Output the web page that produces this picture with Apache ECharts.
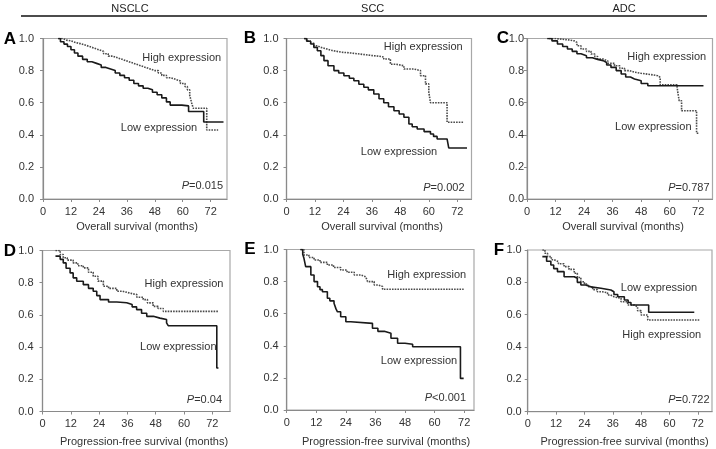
<!DOCTYPE html>
<html><head><meta charset="utf-8">
<script src="https://cdn.jsdelivr.net/npm/echarts@6/dist/echarts.min.js"></script>
<style>html,body{margin:0;padding:0;background:#fff}#c{width:716px;height:449px}</style>
</head><body><div id="c"></div>
<script>
// ---------- DATA (month, survival proportion) ----------
const columnTitles = ['NSCLC', 'SCC', 'ADC'];
const xTickValues = [0, 12, 24, 36, 48, 60, 72];
const yTickValues = [0.0, 0.2, 0.4, 0.6, 0.8, 1.0];
const osTitle = 'Overall survival (months)';
const pfsTitle = 'Progression-free survival (months)';
const pValues = ['=0.015', '=0.002', '=0.787', '=0.04', '<0.001', '=0.722'];

const nsclcOsHigh = [[6.6,1.0],[8.5,0.99],[10,0.985],[12,0.975],[14,0.968],[16,0.96],[18,0.95],[20,0.94],[22,0.93],[24,0.92],[26,0.905],[28,0.89],[30,0.88],[32,0.87],[34,0.86],[36,0.85],[38,0.84],[40,0.83],[42,0.82],[44,0.81],[46,0.80],[48,0.80],[49.5,0.785],[51,0.77],[53,0.755],[55,0.745],[57,0.735],[59,0.72],[61,0.70],[62,0.68],[63,0.645],[63.8,0.60],[64.5,0.565],[70.3,0.43],[75.2,0.43]];
const nsclcOsLow = [[6.5,1.0],[7.5,0.98],[9,0.965],[10.5,0.95],[12,0.93],[13.5,0.91],[15,0.89],[17,0.87],[19,0.855],[21,0.845],[23,0.835],[25,0.82],[27,0.81],[29,0.80],[31,0.785],[33,0.77],[35,0.755],[37,0.74],[39,0.72],[41,0.705],[43,0.69],[45,0.68],[47,0.665],[49,0.65],[51,0.63],[53,0.605],[54.6,0.585],[59.6,0.58],[62.5,0.545],[69,0.48],[77.5,0.48]];

const sccOsHigh = [[7.4,1.0],[8.5,0.985],[10,0.97],[11.6,0.955],[13,0.945],[14.4,0.935],[17,0.925],[19.3,0.915],[23,0.91],[27,0.903],[31,0.895],[35.4,0.89],[39,0.885],[41,0.872],[43.8,0.84],[46,0.83],[49.5,0.81],[53.7,0.80],[56.5,0.768],[58.6,0.717],[60,0.665],[60.7,0.60],[67.7,0.478],[74.7,0.478]];
const sccOsLow = [[7.4,1.0],[8.5,0.983],[10.2,0.966],[11.5,0.945],[13,0.924],[14.5,0.893],[15.8,0.862],[17.5,0.83],[20,0.80],[22,0.785],[24.2,0.768],[26.5,0.752],[28.4,0.737],[30.5,0.715],[32.6,0.696],[34.5,0.68],[36.8,0.654],[39,0.625],[41,0.60],[43,0.575],[45.3,0.55],[47.5,0.53],[49.5,0.509],[51.6,0.467],[53,0.45],[55.1,0.436],[58,0.42],[60.7,0.405],[62,0.39],[63.5,0.374],[67.7,0.363],[68.4,0.318],[76.1,0.318]];

const adcOsHigh = [[9.3,1.0],[12,0.995],[15,0.99],[18,0.985],[19.9,0.976],[21,0.955],[22.7,0.935],[25,0.92],[26.9,0.903],[28.5,0.888],[29.7,0.872],[32,0.86],[34,0.845],[36.8,0.83],[39,0.815],[41,0.80],[43,0.79],[45.2,0.783],[48,0.775],[52.2,0.768],[55,0.758],[56,0.712],[63,0.712],[63.4,0.665],[64,0.612],[65,0.55],[71.3,0.41],[72.5,0.41]];
const adcOsLow = [[8.5,1.0],[10.5,0.985],[12.8,0.966],[15,0.95],[17,0.935],[19,0.92],[21,0.905],[22.7,0.893],[25,0.88],[27.5,0.87],[29.7,0.862],[32,0.85],[33.5,0.835],[35.3,0.82],[37.5,0.80],[39.6,0.779],[41.5,0.76],[43.5,0.748],[45.2,0.737],[48,0.72],[50.8,0.706],[74.2,0.706]];

const nsclcPfsHigh = [[5.5,1.0],[7.5,0.975],[8.8,0.955],[10.5,0.94],[13,0.923],[15,0.905],[17.3,0.892],[19.5,0.865],[21.5,0.84],[23.5,0.81],[25.8,0.778],[28,0.765],[31.5,0.747],[34,0.735],[37.1,0.726],[40,0.71],[42.7,0.695],[44.5,0.675],[46.9,0.653],[49,0.64],[51.2,0.622],[74.6,0.622]];
const nsclcPfsLow = [[5.5,0.965],[7.5,0.945],[8.8,0.923],[10,0.89],[11.7,0.861],[13,0.83],[14.5,0.809],[17.3,0.788],[19.5,0.765],[21.5,0.747],[23,0.72],[24.4,0.695],[28,0.68],[31.5,0.675],[35.7,0.664],[38,0.65],[39.9,0.633],[42,0.61],[44.2,0.591],[47,0.58],[49.8,0.571],[52.6,0.55],[53.3,0.533],[73.9,0.27],[74.6,0.27]];

const sccPfsHigh = [[5.7,1.0],[7,0.966],[9,0.95],[11.1,0.935],[13.5,0.92],[16.5,0.903],[19,0.888],[21.9,0.872],[24.5,0.858],[27.4,0.841],[30,0.83],[32.1,0.82],[32.8,0.80],[35.5,0.779],[37,0.77],[38.9,0.752],[71.8,0.752]];
const sccPfsLow = [[5.5,1.0],[6.5,0.97],[7,0.945],[7.7,0.893],[9.8,0.841],[11.1,0.80],[12.5,0.768],[13.5,0.75],[14.5,0.737],[16.5,0.696],[17.5,0.68],[19.2,0.665],[20,0.63],[20.6,0.612],[21.9,0.581],[24,0.55],[26,0.54],[34.8,0.509],[37,0.49],[39.6,0.478],[42.3,0.447],[45,0.416],[48,0.41],[51.1,0.394],[70.5,0.197],[71.8,0.197]];

const adcPfsHigh = [[6.2,1.0],[7.3,0.98],[8.4,0.959],[10,0.94],[11.2,0.928],[13,0.915],[15.4,0.897],[17.5,0.88],[19.7,0.856],[21,0.83],[22.5,0.804],[24,0.79],[25.4,0.773],[27.5,0.755],[29.5,0.742],[31.5,0.735],[33.8,0.722],[35,0.71],[36.6,0.701],[39.5,0.68],[42.3,0.66],[45.1,0.649],[46.5,0.625],[48,0.598],[50.8,0.567],[72.7,0.567]];
const adcPfsLow = [[6.2,0.959],[8,0.93],[9.8,0.907],[11,0.885],[12.6,0.866],[15.4,0.835],[19.7,0.825],[21,0.80],[22.5,0.784],[24.5,0.772],[26.7,0.763],[31,0.753],[35.2,0.742],[36.5,0.725],[38.1,0.711],[40.9,0.691],[42.5,0.675],[43.7,0.66],[51.2,0.615],[70.5,0.615]];

// ---------- LAYOUT ----------
const FONT = '"Liberation Sans", Arial, Helvetica, sans-serif';
const panels = [
  {letter:'A', grid:{left:43, top:38.5, width:184, height:160.5}, xMax:79, yMargin:9, high:nsclcOsHigh, low:nsclcOsLow, xTitle:osTitle, p:pValues[0],
   letterPos:[10,39], titlePos:[137,227], hiPos:[181.7,58.3], loPos:[159,128.3], pPos:[223,186]},
  {letter:'B', grid:{left:286.5, top:38.5, width:185, height:160.5}, xMax:78, yMargin:8, high:sccOsHigh, low:sccOsLow, xTitle:osTitle, p:pValues[1],
   letterPos:[250,38], titlePos:[382,227], hiPos:[423.3,46.7], loPos:[399,151.7], pPos:[464.5,188]},
  {letter:'C', grid:{left:527, top:38.5, width:185.5, height:160.5}, xMax:78, yMargin:3, high:adcOsHigh, low:adcOsLow, xTitle:osTitle, p:pValues[2],
   letterPos:[503,38], titlePos:[623,227], hiPos:[666.7,56.7], loPos:[653.3,126.7], pPos:[709.5,187.7]},
  {letter:'D', grid:{left:42.5, top:250.5, width:187.5, height:161}, xMax:79.5, yMargin:9, high:nsclcPfsHigh, low:nsclcPfsLow, xTitle:pfsTitle, p:pValues[3],
   letterPos:[10,251], titlePos:[144,441.7], hiPos:[184,284.3], loPos:[178.3,346.7], pPos:[222,400]},
  {letter:'E', grid:{left:286.7, top:249.5, width:187.3, height:160.5}, xMax:76, yMargin:8, high:sccPfsHigh, low:sccPfsLow, xTitle:pfsTitle, p:pValues[4],
   letterPos:[250,249], titlePos:[386,441.7], hiPos:[426.7,275], loPos:[419,361], pPos:[466,398]},
  {letter:'F', grid:{left:527.7, top:250, width:184.3, height:161.7}, xMax:78, yMargin:6, high:adcPfsHigh, low:adcPfsLow, xTitle:pfsTitle, p:pValues[5],
   letterPos:[499,250], titlePos:[624.5,441.7], hiPos:[661.7,335], loPos:[659,288.3], pPos:[709.5,399.7]}
];
const columnTitlePos = [[130,8.5],[372.7,8.5],[624,8.5]];

const grids = [], xAxes = [], yAxes = [], series = [], graphics = [];
const axisGray = '#8a8a8a', labelColor = '#333';

panels.forEach((p, i) => {
  grids.push(Object.assign({show:true, borderColor:'#a8a8a8', borderWidth:1.2, backgroundColor:'transparent', containLabel:false, outerBoundsMode:'none'}, p.grid));
  xAxes.push({
    type:'value', gridIndex:i, min:0, max:p.xMax, interval:12,
    axisLine:{show:true, onZero:false, lineStyle:{color:axisGray, width:1.2}},
    axisTick:{show:true, length:3, lineStyle:{color:axisGray}},
    axisLabel:{show:true, showMaxLabel:false, margin:7, color:labelColor, fontFamily:FONT, fontSize:11,
      formatter: v => (xTickValues.indexOf(v) >= 0 ? String(v) : '')},
    splitLine:{show:false}
  });
  yAxes.push({
    type:'value', gridIndex:i, min:0, max:1, interval:0.2,
    axisLine:{show:true, onZero:false, lineStyle:{color:axisGray, width:1.2}},
    axisTick:{show:true, length:3, lineStyle:{color:axisGray}},
    axisLabel:{show:true, margin:p.yMargin, color:labelColor, fontFamily:FONT, fontSize:11,
      formatter: v => v.toFixed(1)},
    splitLine:{show:false}
  });
  series.push({
    name:'High expression', type:'line', xAxisIndex:i, yAxisIndex:i, step:'end', showSymbol:false, silent:true,
    data:p.high, lineStyle:{color:'#4a4a4a', width:1.6, type:[1.6,1.1]}, animation:false, z:3
  });
  series.push({
    name:'Low expression', type:'line', xAxisIndex:i, yAxisIndex:i, step:'end', showSymbol:false, silent:true,
    data:p.low, lineStyle:{color:'#1a1a1a', width:1.6}, animation:false, z:4
  });
  graphics.push({type:'text', x:p.letterPos[0], y:p.letterPos[1], style:{text:p.letter, font:'bold 17px ' + FONT, fill:'#000', textAlign:'center', textVerticalAlign:'middle'}});
  graphics.push({type:'text', x:p.titlePos[0], y:p.titlePos[1], style:{text:p.xTitle, font:'11px ' + FONT, fill:labelColor, textAlign:'center', textVerticalAlign:'middle'}});
  graphics.push({type:'text', x:p.hiPos[0], y:p.hiPos[1], style:{text:'High expression', font:'11px ' + FONT, fill:labelColor, textAlign:'center', textVerticalAlign:'middle'}});
  graphics.push({type:'text', x:p.loPos[0], y:p.loPos[1], style:{text:'Low expression', font:'11px ' + FONT, fill:labelColor, textAlign:'center', textVerticalAlign:'middle'}});
  graphics.push({type:'text', x:p.pPos[0], y:p.pPos[1], style:{text:'{i|P}' + p.p, font:'11px ' + FONT, fill:labelColor, textAlign:'right', textVerticalAlign:'middle',
    rich:{i:{fontStyle:'italic', fontFamily:FONT, fontSize:11, fill:labelColor}}}});
});

columnTitles.forEach((t, i) => {
  graphics.push({type:'text', x:columnTitlePos[i][0], y:columnTitlePos[i][1], style:{text:t, font:'11px ' + FONT, fill:'#222', textAlign:'center', textVerticalAlign:'middle'}});
});
graphics.push({type:'line', shape:{x1:21, y1:16, x2:707, y2:16}, style:{stroke:'#111', lineWidth:1.5}});

const chart = echarts.init(document.getElementById('c'), null, {renderer:'canvas'});
chart.setOption({
  animation:false,
  backgroundColor:'#fff',
  grid:grids, xAxis:xAxes, yAxis:yAxes, series:series, graphic:graphics
});
</script></body></html>
